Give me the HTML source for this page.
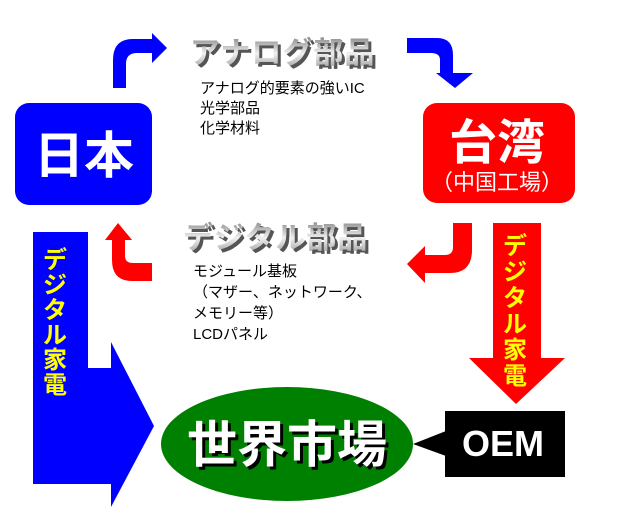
<!DOCTYPE html>
<html><head><meta charset="utf-8"><style>
html,body{margin:0;padding:0;background:#fff;}
svg{display:block;}
text{font-family:"Liberation Sans","Noto Sans CJK JP",sans-serif;}
</style></head><body>
<svg width="642" height="509" viewBox="0 0 642 509" xmlns="http://www.w3.org/2000/svg">
<defs>
<linearGradient id="g" x1="0" y1="0" x2="0" y2="1">
<stop offset="0" stop-color="#8a8a8a"/><stop offset="0.5" stop-color="#f0f0f0"/><stop offset="1" stop-color="#9a9a9a"/>
</linearGradient>
</defs>
<rect x="15" y="103" width="137" height="102" rx="14" fill="#0000ff"/>
<text x="84" y="173" font-size="50" font-weight="bold" fill="#fff" text-anchor="middle">日本</text>
<rect x="423" y="103" width="152" height="100" rx="14" fill="#ff0000"/>
<text x="497" y="159" font-size="48" font-weight="bold" fill="#fff" text-anchor="middle">台湾</text>
<text x="497" y="190" font-size="22" fill="#fff" text-anchor="middle">（中国工場）</text>
<path d="M113,88 L113,60 Q113,39 133,39 L152,39 L152,33 L167,48 L152,63 L152,53 L137,53 Q126,53 126,64 L126,88 Z" fill="#0000ff"/>
<path d="M407,38 L437,38 Q453,38 453,55 L453,73 L473,73 L455,88 L436,73 L440,73 L440,60 Q440,53 431,53 L407,53 Z" fill="#0000ff"/>
<path d="M152,281 L132,281 Q112,281 112,260 L112,240 L105,240 L118,223 L132,240 L125,240 L125,256 Q125,263 133,263 L152,263 Z" fill="#ff0000"/>
<path d="M453,223 L472,223 L472,250 Q472,273 450,273 L425,273 L425,283 L407,264 L425,246 L425,255 L445,255 Q453,255 453,247 Z" fill="#ff0000"/>
<g font-size="30" font-weight="bold">
<text x="193" y="66" fill="#555" letter-spacing="1">アナログ部品</text>
<text x="190" y="63" fill="url(#g)" letter-spacing="1">アナログ部品</text>
<text x="186" y="251" fill="#555" letter-spacing="1">デジタル部品</text>
<text x="183" y="248" fill="url(#g)" letter-spacing="1">デジタル部品</text>
</g>
<g font-size="15" fill="#000">
<text x="200" y="93">アナログ的要素の強いIC</text>
<text x="200" y="113">光学部品</text>
<text x="200" y="133">化学材料</text>
<text x="193" y="276">モジュール基板</text>
<text x="193" y="297">（マザー、ネットワーク、</text>
<text x="193" y="318">メモリー等）</text>
<text x="193" y="339">LCDパネル</text>
</g>
<path d="M33,232 L88,232 L88,368 L111,368 L111,342 L154,426 L111,507 L111,484 L33,484 Z" fill="#0000ff"/>
<g font-size="24" font-weight="bold" fill="#ffff00" text-anchor="middle">
<text x="55" y="268">デ</text><text x="55" y="293">ジ</text><text x="55" y="318">タ</text><text x="55" y="343">ル</text><text x="55" y="368">家</text><text x="55" y="393">電</text>
</g>
<path d="M493,223 L541,223 L541,358 L565,358 L516,404 L469,358 L493,358 Z" fill="#ff0000"/>
<g font-size="24" font-weight="bold" fill="#ffff00" text-anchor="middle">
<text x="515" y="254">デ</text><text x="515" y="280">ジ</text><text x="515" y="306">タ</text><text x="515" y="332">ル</text><text x="515" y="358">家</text><text x="515" y="384">電</text>
</g>
<ellipse cx="287" cy="444" rx="126" ry="57" fill="#008000"/>
<text x="290" y="465" font-size="50" font-weight="bold" fill="#000" text-anchor="middle">世界市場</text>
<text x="287" y="462" font-size="50" font-weight="bold" fill="#fff" text-anchor="middle">世界市場</text>
<rect x="445" y="411" width="120" height="66" fill="#000"/>
<path d="M446,431 L413,444 L446,456 Z" fill="#000"/>
<text x="503" y="456" font-size="36" font-weight="bold" fill="#fff" text-anchor="middle">OEM</text>
</svg>
</body></html>
